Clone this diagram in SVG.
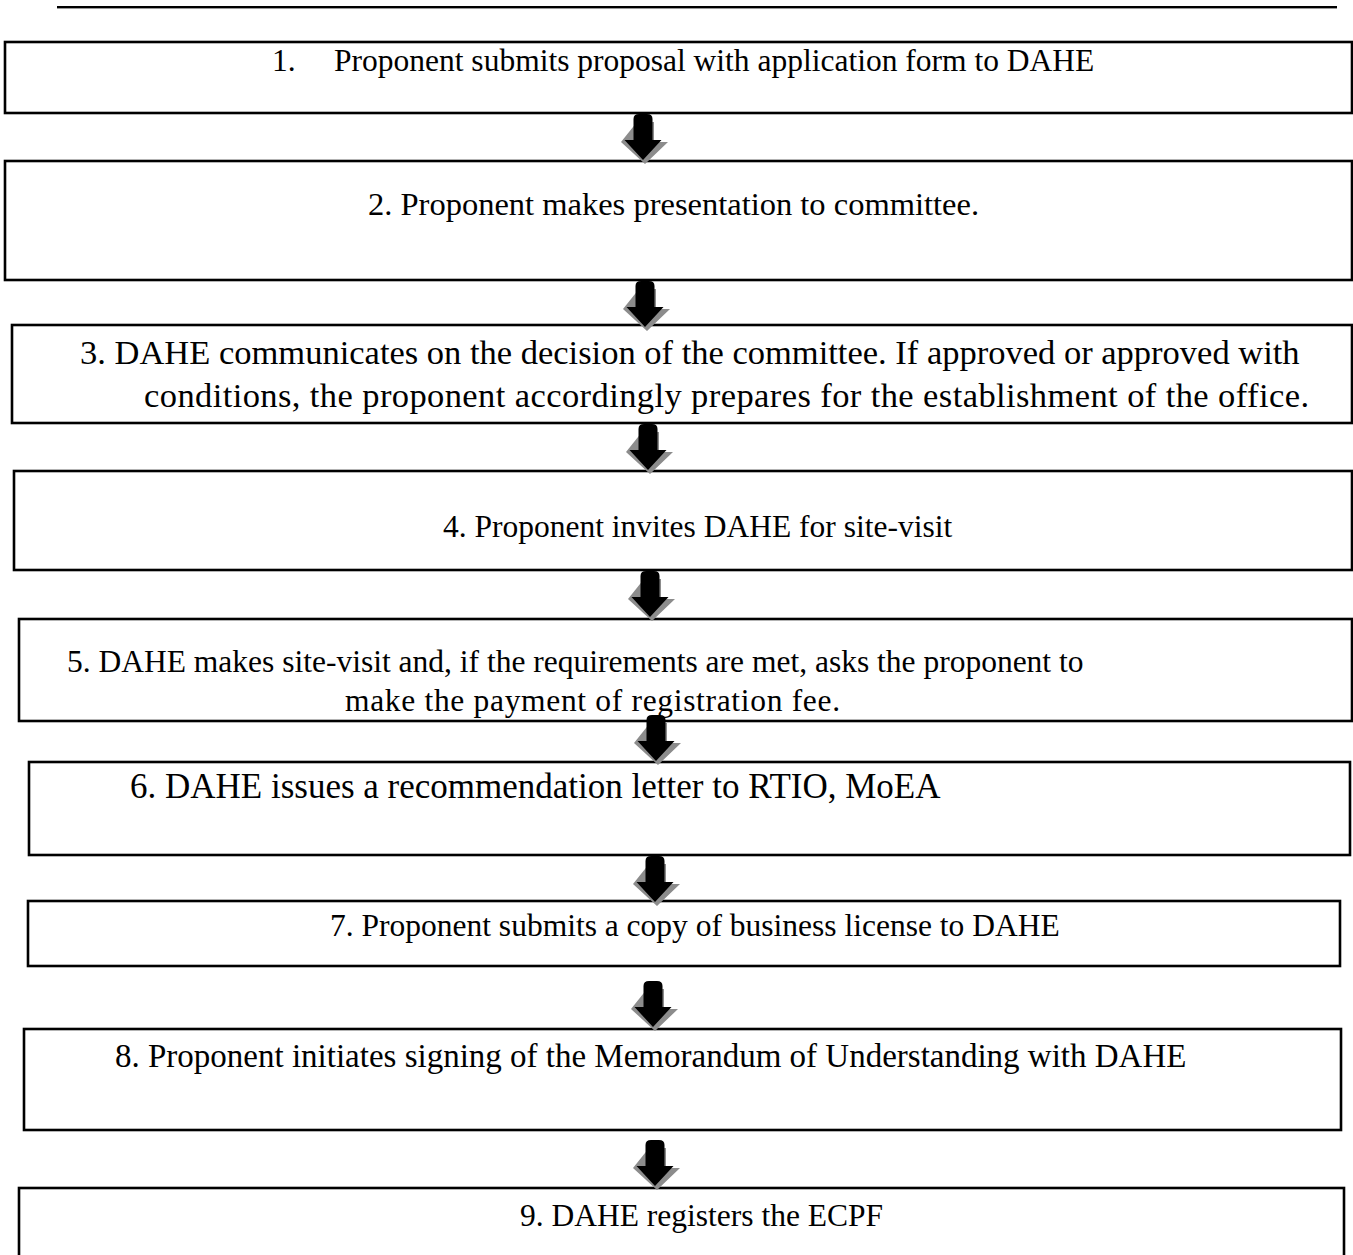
<svg xmlns="http://www.w3.org/2000/svg" width="1353" height="1255" viewBox="0 0 1353 1255">
<style>
.box{fill:#fff;stroke:#000;stroke-width:2.6}
.t{font-family:"Liberation Serif","Times New Roman",serif;font-size:31.5px;fill:#000}
.sh{fill:#8c8c8c}
.ar{fill:#000}
</style>
<defs>
<path id="arr" d="M-9.5,5 Q-9.5,0 -4,0 L4,0 Q9.5,0 9.5,5 L9.5,26 L18.5,26 L0,46 L-18.5,26 L-9.5,26 Z"/>
<path id="arrs" d="M-6,8 L11,8 L11,28 L25,28 L2,50 L-22,28 Z"/>
</defs>
<rect x="0" y="0" width="1353" height="1255" fill="#fff"/>
<g id="topline">
<line x1="57" y1="7" x2="1337" y2="7" stroke="#000" stroke-width="2"/>
<line x1="57" y1="8.5" x2="1337" y2="8.5" stroke="#999" stroke-width="1"/>
</g>
<g id="node1"><rect class="box" x="5" y="42" width="1347" height="71"/>
<text class="t" x="272" y="71">1.</text><text class="t" x="334" y="71">Proponent submits proposal with application form to DAHE</text></g>
<g id="node2"><rect class="box" x="5" y="161" width="1347" height="119"/>
<text class="t" x="368" y="215" style="font-size:32.5px">2. Proponent makes presentation to committee.</text></g>
<g id="node3"><rect class="box" x="12" y="325" width="1340" height="98"/>
<text class="t" x="80" y="364" style="font-size:34.5px">3. DAHE communicates on the decision of the committee. If approved or approved with</text>
<text class="t" x="144" y="407" style="font-size:34.5px" textLength="1165">conditions, the proponent accordingly prepares for the establishment of the office.</text></g>
<g id="node4"><rect class="box" x="14" y="471" width="1338" height="99"/>
<text class="t" x="443" y="537">4. Proponent invites DAHE for site-visit</text></g>
<g id="node5"><rect class="box" x="19" y="619" width="1333" height="102"/>
<text class="t" x="67" y="672">5. DAHE makes site-visit and, if the requirements are met, asks the proponent to</text>
<text class="t" x="345" y="711" textLength="495">make the payment of registration fee.</text></g>
<g id="node6"><rect class="box" x="29" y="762" width="1321" height="93"/>
<text class="t" x="130" y="798" style="font-size:35px">6. DAHE issues a recommendation letter to RTIO, MoEA</text></g>
<g id="node7"><rect class="box" x="28" y="901" width="1312" height="65"/>
<text class="t" x="330" y="936">7. Proponent submits a copy of business license to DAHE</text></g>
<g id="node8"><rect class="box" x="24" y="1029" width="1317" height="101"/>
<text class="t" x="115" y="1067" style="font-size:33px">8. Proponent initiates signing of the Memorandum of Understanding with DAHE</text></g>
<g id="node9"><rect class="box" x="19" y="1188" width="1325" height="80"/>
<text class="t" x="520" y="1226">9. DAHE registers the ECPF</text></g>
<g id="connectors">
<g transform="translate(643,114)"><use href="#arrs" class="sh"/><use href="#arr" class="ar"/></g>
<g transform="translate(645,281)"><use href="#arrs" class="sh"/><use href="#arr" class="ar"/></g>
<g transform="translate(648,424)"><use href="#arrs" class="sh"/><use href="#arr" class="ar"/></g>
<g transform="translate(650,571)"><use href="#arrs" class="sh"/><use href="#arr" class="ar"/></g>
<g transform="translate(656,715)"><use href="#arrs" class="sh"/><use href="#arr" class="ar"/></g>
<g transform="translate(655,856)"><use href="#arrs" class="sh"/><use href="#arr" class="ar"/></g>
<g transform="translate(653,981)"><use href="#arrs" class="sh"/><use href="#arr" class="ar"/></g>
<g transform="translate(655,1140)"><use href="#arrs" class="sh"/><use href="#arr" class="ar"/></g>
</g>
</svg>
